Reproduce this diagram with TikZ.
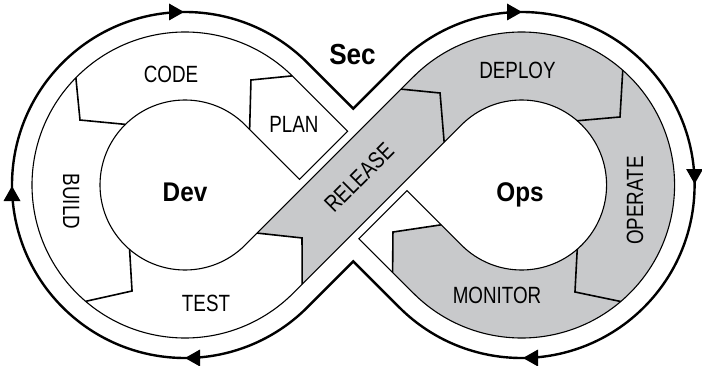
\documentclass[tikz,border=0pt]{standalone}
\usepackage{fontspec}
\usetikzlibrary{calc}
\newfontfamily\labelfont{Liberation Sans}[FakeStretch=0.8]
\newfontfamily\titlefont{Liberation Sans}[FakeStretch=0.9]
\definecolor{bandgray}{RGB}{200,201,203}
\begin{document}
\begin{tikzpicture}[x=1pt,y=1pt,
  bandline/.style={line width=1.1pt, line join=miter},
  divline/.style={line width=1.6pt, line join=miter},
  arrowline/.style={line width=2.4pt, line join=miter},
  lbl/.style={inner sep=0pt, font=\labelfont\fontsize{23.5}{24}\selectfont},
  big/.style={inner sep=0pt, font=\titlefont\bfseries\fontsize{27}{28}\selectfont},
  head/.style={fill=black}
]
\useasboundingbox (0,0) rectangle (702,365);
\fill[white] (0,0) rectangle (702,365);
\begin{scope}[shift={(185,180)}, rotate=-45]
  % gray segments, clipped to the band
  \begin{scope}
    \clip (77,85) -- (0,85) arc[start angle=90,end angle=360,radius=85]
      -- (85,238) arc[start angle=180,end angle=-90,radius=153]
      -- (161,85) -- (161,153) -- (238,153) arc[start angle=-90,end angle=180,radius=85]
      -- (153,0) arc[start angle=360,end angle=90,radius=153] -- (77,153) -- cycle;
    \fill[bandgray] (78,11.4) -- (85,17) -- (120.2,45.3) -- (153,12.7) -- (160,5.7)
        -- (160,450) -- (78,450) -- cycle
      (156,-100) -- (450,-100) -- (450,450) -- (156,450) -- (156,160.8) -- (215.1,160.8)
        -- (209.3,153) -- (180.3,113.8) -- (208.6,85) -- (214.3,79.2) -- (156,79.2) -- cycle;
  \end{scope}
  % band outline
  \draw[bandline] (77,85) -- (0,85) arc[start angle=90,end angle=360,radius=85]
      -- (85,238) arc[start angle=180,end angle=-90,radius=153]
      -- (161,85) -- (161,153) -- (238,153) arc[start angle=-90,end angle=180,radius=85]
      -- (153,0) arc[start angle=360,end angle=90,radius=153] -- (77,153) -- cycle;
  % dividers
  \draw[divline] (90.5:153) -- (-27.6,120.9) -- (6.4,85);
  \draw[divline] (180.5:153) -- (-120.2,-28.3) -- (179.5:85);
  \draw[divline] (274.5:153) -- (37.5,-112.4) -- (274.3:85);
  \draw[divline] (85,17) -- (120.2,45.3) -- (153,12.7);
  \draw[divline] (85,220.6) -- (115.3,245.4) -- (153,213.5);
  \draw[divline] ($(238,238)+(93.6:153)$) -- (259.5,355.7) -- ($(238,238)+(94.1:85)$);
  \draw[divline] ($(238,238)+(-4.1:85)$) -- (351.4,200.1) -- ($(238,238)+(-4.6:153)$);
  \draw[divline] (208.6,85) -- (180.3,113.8) -- (209.3,153);
  % outer arrow loop
  \draw[arrowline] (0,173) arc[start angle=90,end angle=360,radius=173] -- (173,65)
      -- (238,65) arc[start angle=-90,end angle=180,radius=173] -- (65,173) -- cycle;
\end{scope}
% arrowheads
\fill[head] (184,353) -- (169,361.5) -- (169,344.5) -- cycle;
\fill[head] (522,353) -- (507,361.5) -- (507,344.5) -- cycle;
\fill[head] (694.6,181) -- (686.1,196) -- (703.1,196) -- cycle;
\fill[head] (523,7) -- (538,15.5) -- (538,-1.5) -- cycle;
\fill[head] (185,7) -- (200,15.5) -- (200,-1.5) -- cycle;
\fill[head] (12,179) -- (3.5,164) -- (20.5,164) -- cycle;
% labels
\node[lbl, anchor=base] (code) at (171,283) {CODE};
\node[lbl, anchor=base] (plan) at (294,233) {PLAN};
\node[lbl, rotate=-90] (build) at (71,163.5) {BUILD};
\node[lbl, anchor=base] (test) at (206,53.3) {TEST};
\node[lbl, rotate=45] (release) at (359,187.5) {RELEASE};
\node[lbl, anchor=base] (deploy) at (517.5,286) {DEPLOY};
\node[lbl, rotate=90] (operate) at (635,164.5) {OPERATE};
\node[lbl, anchor=base] (monitor) at (497,61.7) {MONITOR};
\node[big, anchor=base] (dev) at (185,163.3) {Dev};
\node[big, anchor=base] (ops) at (520,163.5) {Ops};
\node[big, anchor=base, font=\titlefont\bfseries\fontsize{29}{30}\selectfont] (sec) at (352.5,300) {Sec};
\end{tikzpicture}
\end{document}
